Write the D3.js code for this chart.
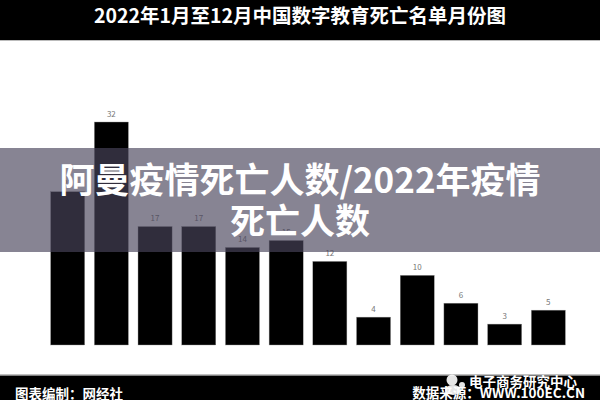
<!DOCTYPE html>
<html>
<head>
<meta charset="utf-8">
<script src="https://cdn.jsdelivr.net/npm/d3@7"></script>
<style>
  body { margin: 0; background: white; }
  svg { display: block; }
</style>
</head>
<body>
<svg id="vis"></svg>
<script>
// chart data
const MONTHS = ['1月', '2月', '3月', '4月', '5月', '6月', '7月', '8月', '9月', '10月', '11月', '12月']
const DEATHS = [22, 32, 17, 17, 14, 15, 12, 4, 10, 6, 3, 5]
const TITLE = '2022年1月至12月中国数字教育死亡名单月份图'
const OVERLAY_LINES = ['阿曼疫情死亡人数/2022年疫情', '死亡人数']
const FOOTER_LEFT = '图表编制：网经社'
const FOOTER_RIGHT = '数据来源：WWW.100EC.CN'
const LOGO_TEXT = '电子商务研究中心'

const W = 600
const H = 400
const FONT = '"Noto Sans CJK SC", "Noto Sans", sans-serif'

var svg = d3.select('#vis')
    .attr('width', W)
    .attr('height', H)

// scales
var x = d3.scaleBand()
    .domain(MONTHS)
    .range([41, 575])
    .padding(0.22)

var y = d3.scaleLinear()
    .domain([0, 32])
    .range([345, 122])

// title bar
svg.append('rect')
    .attr('x', 0)
    .attr('y', 0)
    .attr('width', W)
    .attr('height', 40)
    .attr('fill', 'black')
svg.append('line')
    .attr('x1', 0).attr('x2', W)
    .attr('y1', 40.5).attr('y2', 40.5)
    .attr('stroke', '#bbb')

svg.append('text')
    .attr('x', W / 2)
    .attr('y', 22.5)
    .attr('font-family', FONT)
    .attr('font-weight', 'bold')
    .attr('font-size', 19.5)
    .style('text-anchor', 'middle')
    .style('fill', 'white')
    .text(TITLE)

// bars
svg.selectAll('.bar')
    .data(DEATHS)
    .enter().append('rect')
    .attr('class', 'bar')
    .attr('x', (d, i) => x(MONTHS[i]))
    .attr('y', d => y(d))
    .attr('width', x.bandwidth())
    .attr('height', d => y(0) - y(d))
    .attr('fill', 'black')
    .attr('stroke', '#999')
    .attr('stroke-width', 0.4)

// value labels
svg.selectAll('.label')
    .data(DEATHS)
    .enter().append('text')
    .attr('class', 'label')
    .attr('x', (d, i) => x(MONTHS[i]) + x.bandwidth() / 2)
    .attr('y', d => y(d) - 5.5)
    .attr('font-family', FONT)
    .attr('font-size', 8)
    .style('text-anchor', 'middle')
    .style('fill', '#777')
    .text(d => d)

// translucent band over the middle
svg.append('rect')
    .attr('x', 0)
    .attr('y', 148)
    .attr('width', W)
    .attr('height', 104)
    .attr('fill', 'rgb(73, 68, 91)')
    .attr('opacity', 0.66)

svg.selectAll('.overlay-text')
    .data(OVERLAY_LINES)
    .enter().append('text')
    .attr('class', 'overlay-text')
    .attr('x', W / 2)
    .attr('y', (d, i) => 193 + i * 41)
    .attr('font-family', FONT)
    .attr('font-weight', 'bold')
    .attr('font-size', 35)
    .style('text-anchor', 'middle')
    .style('fill', 'white')
    .text(d => d)

// footer
svg.append('rect')
    .attr('x', 0)
    .attr('y', 375)
    .attr('width', W)
    .attr('height', 25)
    .attr('fill', 'black')
svg.append('line')
    .attr('x1', 0).attr('x2', W)
    .attr('y1', 375).attr('y2', 375)
    .attr('stroke', '#aaa')
    .attr('stroke-width', 1.5)

svg.append('text')
    .attr('x', 15)
    .attr('y', 399)
    .attr('font-family', FONT)
    .attr('font-weight', 'bold')
    .attr('font-size', 13.5)
    .style('fill', 'white')
    .text(FOOTER_LEFT)

svg.append('text')
    .attr('x', 585)
    .attr('y', 398)
    .attr('font-family', FONT)
    .attr('font-weight', 'bold')
    .attr('font-size', 13.5)
    .style('text-anchor', 'end')
    .style('fill', 'white')
    .text(FOOTER_RIGHT)

// little logo: icon + name
var logo = svg.append('g').attr('fill', 'white').attr('opacity', 0.9)
logo.append('circle').attr('cx', 452).attr('cy', 380).attr('r', 5.5)
logo.append('ellipse').attr('cx', 453).attr('cy', 390).attr('rx', 8).attr('ry', 5)
logo.append('circle').attr('cx', 462).attr('cy', 385).attr('r', 3)

svg.append('text')
    .attr('x', 577)
    .attr('y', 387)
    .attr('font-family', FONT)
    .attr('font-weight', 'bold')
    .attr('font-size', 13.5)
    .style('text-anchor', 'end')
    .style('fill', 'white')
    .text(LOGO_TEXT)
</script>
</body>
</html>
